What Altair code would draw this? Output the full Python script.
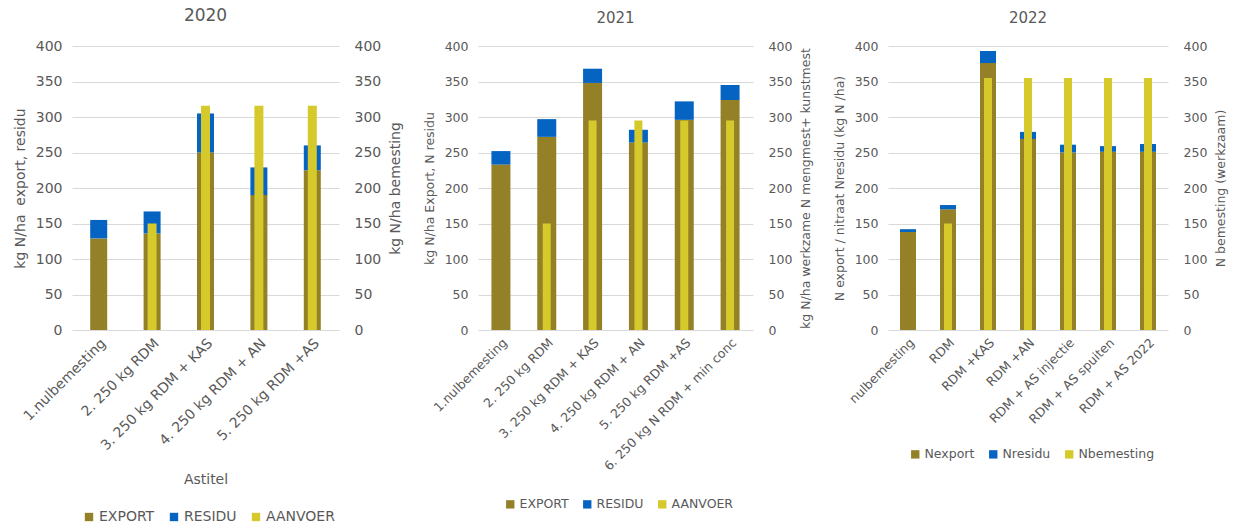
import altair as alt
import pandas as pd

# ---------------- data ----------------
cats_2020 = ["1.nulbemesting", "2. 250 kg RDM", "3. 250 kg RDM + KAS",
             "4. 250 kg RDM + AN", "5. 250 kg RDM +AS"]
export_2020 = [129, 136, 250, 190, 225]
residu_2020 = [26, 31, 55, 39, 35]
aanvoer_2020 = [0, 150, 316, 316, 316]
names_2020 = ["EXPORT", "RESIDU", "AANVOER"]

cats_2021 = ["1.nulbemesting", "2. 250 kg RDM", "3. 250 kg RDM + KAS",
             "4. 250 kg RDM + AN", "5. 250 kg RDM +AS", "6. 250 kg N RDM + min conc"]
export_2021 = [233, 272, 348, 264, 296, 324]
residu_2021 = [19, 25, 20, 18, 26, 21]
aanvoer_2021 = [0, 150, 295, 295, 295, 295]
names_2021 = ["EXPORT", "RESIDU", "AANVOER"]

cats_2022 = ["nulbemesting", "RDM", "RDM +KAS", "RDM +AN", "RDM + AS injectie",
             "RDM + AS spuiten", "RDM + AS 2022"]
export_2022 = [138, 170, 376, 269, 250, 251, 251]
residu_2022 = [4, 6, 17, 10, 11, 8, 11]
aanvoer_2022 = [0, 150, 355, 355, 355, 355, 355]
names_2022 = ["Nexport", "Nresidu", "Nbemesting"]

COLORS = ["#948026", "#0563C1", "#D6C92B"]
GREY = "#595959"
FONT = "DejaVu Sans"


def panel(year, cats, export, residu, aanvoer, names, left_title, right_title,
          x_title, width, height, bw, yw, fs, tfs, lx, ly, lcol):
    rows = []
    for c, e, r in zip(cats, export, residu):
        rows.append({"cat": c, "series": names[0], "value": e, "ord": 0})
        rows.append({"cat": c, "series": names[1], "value": r, "ord": 1})
    df_stack = pd.DataFrame(rows)
    df_y = pd.DataFrame({"cat": cats, "series": names[2], "value": aanvoer})

    color = alt.Color(
        "series:N",
        scale=alt.Scale(domain=names, range=COLORS),
        legend=alt.Legend(title=None, orient="none", legendX=lx, legendY=ly,
                          direction="horizontal", symbolType="square",
                          symbolSize=70, symbolStrokeWidth=0,
                          labelFontSize=fs, labelColor=GREY, labelFont=FONT,
                          columnPadding=lcol, labelOffset=3),
    )
    xenc = alt.X(
        "cat:N", sort=cats,
        scale=alt.Scale(paddingInner=0.0, paddingOuter=0.0),
        axis=alt.Axis(title=x_title, labelAngle=-45, labelFontSize=fs,
                      labelColor=GREY, ticks=False, domain=False, labelLimit=0,
                      labelPadding=6, titleFontSize=fs, titleColor=GREY,
                      titleFontWeight="normal", titlePadding=20),
    )
    stack = alt.Chart(df_stack).mark_bar(size=bw).encode(
        x=xenc,
        y=alt.Y("value:Q", stack="zero", scale=alt.Scale(domain=[0, 400]),
                axis=alt.Axis(title=left_title, values=list(range(0, 401, 50)),
                              labelFontSize=fs, labelColor=GREY, ticks=False,
                              domain=False, gridColor="#D9D9D9", labelPadding=10,
                              titleFontSize=fs, titleColor=GREY,
                              titleFontWeight="normal", titlePadding=8)),
        color=color,
        order=alt.Order("ord:Q"),
    )
    yellow = alt.Chart(df_y).mark_bar(size=yw).encode(
        x=xenc,
        y=alt.Y("value:Q", scale=alt.Scale(domain=[0, 400]),
                axis=alt.Axis(title=right_title, orient="right",
                              values=list(range(0, 401, 50)), grid=False,
                              labelFontSize=fs, labelColor=GREY, ticks=False,
                              domain=False, labelPadding=15, titleAngle=270,
                              titleBaseline="top",
                              titleFontSize=fs, titleColor=GREY,
                              titleFontWeight="normal", titlePadding=8)),
        color=color,
    )
    return alt.layer(stack, yellow).resolve_scale(y="independent").properties(
        width=width, height=height,
        title=alt.TitleParams(year, fontSize=tfs, color=GREY, fontWeight="normal",
                              font=FONT, offset=14),
    )


p1 = panel("2020", cats_2020, export_2020, residu_2020, aanvoer_2020, names_2020,
           "kg N/ha\u00a0 export, residu", "kg N/ha bemesting", "Astitel",
           267, 284, 17, 9, 14, 17, 10, 464, 12)
p2 = panel("2021", cats_2021, export_2021, residu_2021, aanvoer_2021, names_2021,
           "kg N/ha Export, N residu", "kg N/ha werkzame N mengmest+ kunstmest", None,
           275, 284, 19, 8, 12.5, 15, 26, 452, 12)
p3 = panel("2022", cats_2022, export_2022, residu_2022, aanvoer_2022, names_2022,
           "N export / nitraat Nresidu (kg N /ha)", "N bemesting (werkzaam)", None,
           280, 284, 16, 8, 12.5, 15, 21, 402, 12)

chart = alt.hconcat(p1, p2, p3, spacing=20).resolve_scale(
    color="independent", x="independent", y="independent"
).resolve_legend(color="independent").configure(
    font=FONT, padding={"left": 13, "top": 7, "right": 5, "bottom": 5}
).configure_view(stroke=None)

chart.save("out.html", embed_options={"renderer": "svg", "actions": False})
